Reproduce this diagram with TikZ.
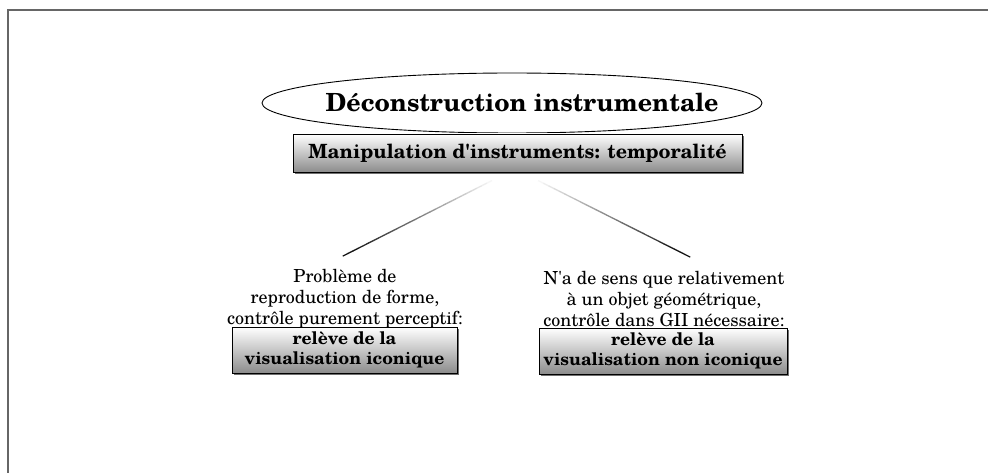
\documentclass[tikz,border=0pt]{standalone}
\usepackage{fontspec}
\setmainfont{TeX Gyre Schola}
\usetikzlibrary{shapes.geometric,shadows,calc}
\tikzset{
  frameline/.style={line width=1.6pt, draw=black!60},
  titleell/.style={ellipse, draw, line width=0.9pt, minimum width=500pt, minimum height=60pt, inner sep=0pt},
  gradbox/.style={draw, line width=0.8pt, top color=white, bottom color=black!45,
    drop shadow={shadow xshift=2pt, shadow yshift=-2pt, fill=black!70, opacity=0.8}},
  plaintext/.style={align=center, font=\fontsize{18}{21}\selectfont, inner sep=0pt},
  boldtext/.style={align=center, font=\fontsize{17.4}{20}\selectfont\bfseries},
}
\begin{document}
\begin{tikzpicture}[x=1pt,y=-1pt]
\useasboundingbox (0,0) rectangle (988,473);
\fill[white] (0,0) rectangle (988,473);
% frame
\draw[frameline] (988,10) -- (8,10) -- (8,473);
% title ellipse
\node[titleell] (ell) at (512,103) {};
\node[font=\fontsize{25}{28}\selectfont\bfseries] (title) at (522,102) {Déconstruction instrumentale};
% manipulation box
\node[gradbox, minimum width=449pt, minimum height=38pt, inner sep=0pt,
  font=\fontsize{19.6}{22}\selectfont\bfseries] (manip) at (517.5,153) {Manipulation d\textquotesingle instruments: temporalité};
% connectors with gradient
\coordinate (lt) at (497,178);
\coordinate (lb) at (343,256);
\coordinate (rt) at (533,178);
\coordinate (rb) at (690,257);
\foreach \i in {0,...,29}{
  \pgfmathsetmacro{\p}{min(90,\i*3.4)}
  \draw[line width=1.3pt, color=black!\p] ($(lt)!{\i/30}!(lb)$) -- ($(lt)!{(\i+1.05)/30}!(lb)$);
  \draw[line width=1.3pt, color=black!\p] ($(rt)!{\i/30}!(rb)$) -- ($(rt)!{(\i+1.05)/30}!(rb)$);
}
% left text
\node[plaintext] (ltext) at (345,299) {Problème de\\reproduction de forme,\\contrôle purement perceptif:};
\node[gradbox, boldtext, minimum width=225pt, minimum height=46pt, inner sep=0pt] (lbox) at (344.5,350) {relève de la\\visualisation iconique};
% right text
\node[plaintext] (rtext) at (664,299) {N\textquotesingle a de sens que relativement\\à un objet géométrique,\\contrôle dans GII nécessaire:};
\node[gradbox, boldtext, minimum width=248pt, minimum height=46pt, inner sep=0pt] (rbox) at (663,351) {relève de la\\visualisation non iconique};
\end{tikzpicture}
\end{document}
